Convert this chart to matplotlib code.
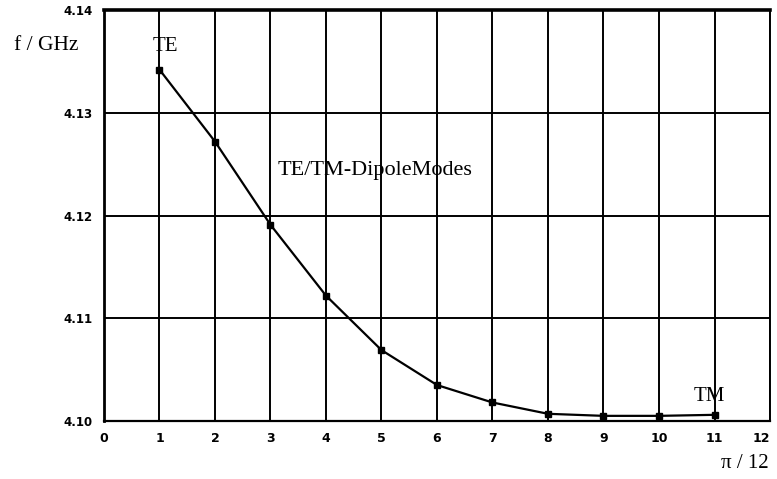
import matplotlib
matplotlib.use("Agg")
import matplotlib.pyplot as plt

modes = [1, 2, 3, 4, 5, 6, 7, 8, 9, 10, 11]
freq_ghz = [4.1342, 4.1272, 4.1191, 4.1122, 4.1069, 4.1035, 4.1018, 4.1007, 4.1005, 4.1005, 4.1006]
xticks = list(range(0, 13))
xtick_labels = [str(v) for v in xticks]
yticks = [4.10, 4.11, 4.12, 4.13, 4.14]
ytick_labels = ["4.10", "4.11", "4.12", "4.13", "4.14"]

fig = plt.figure(figsize=(7.77, 4.79), dpi=100)
ax = fig.add_axes([0.1338, 0.1211, 0.8572, 0.8580])
ax.set_xlim(0, 12)
ax.set_ylim(4.10, 4.14)
ax.set_xticks(xticks)
ax.set_xticklabels(xtick_labels, fontsize=9, fontweight="bold", family="DejaVu Sans")
ax.get_xticklabels()[-1].set_horizontalalignment("right")
ax.set_yticks(yticks)
ax.set_yticklabels(ytick_labels, fontsize=8.5, fontweight="bold", family="DejaVu Sans")
ax.tick_params(axis="x", length=0, pad=8)
ax.tick_params(axis="y", length=0, pad=8)
ax.grid(True, color="black", linewidth=1.4)
for side, lw in [("top", 2.6), ("left", 2.0), ("bottom", 1.6), ("right", 1.4)]:
    ax.spines[side].set_linewidth(lw)
ax.plot(modes, freq_ghz, color="black", linewidth=1.6, marker="s", markersize=4.5,
        markerfacecolor="black", zorder=3)

serif = "Liberation Serif"
fig.text(0.059, 0.905, "f / GHz", fontsize=15.5, family=serif, ha="center", va="center")
fig.text(0.959, 0.033, "π / 12", fontsize=15, family=serif, ha="center", va="center")
ax.text(1.1, 4.1355, "TE", fontsize=15, family=serif, ha="center", va="bottom")
ax.text(10.9, 4.1015, "TM", fontsize=15, family=serif, ha="center", va="bottom")
ax.text(4.88, 4.1244, "TE/TM-DipoleModes", fontsize=16, family=serif, ha="center", va="center")

fig.savefig("out.png", dpi=100)
